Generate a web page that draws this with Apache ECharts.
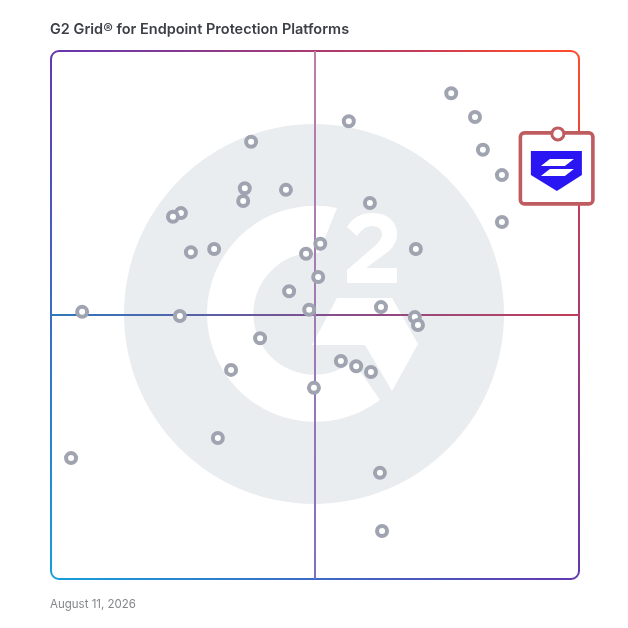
<!DOCTYPE html>
<html lang="en">
<head>
    <meta charset="UTF-8">
    <title>G2 Grid</title>
    <style>
        html, body { margin: 0; padding: 0; background: #fff; }
        #main { width: 628px; height: 628px; }
    </style>
</head>
<body>
    <div id="main"></div>
    <script src="https://cdn.jsdelivr.net/npm/echarts@6/dist/echarts.min.js"></script>
    <script>
        var chartTitle = 'G2 Grid® for Endpoint Protection Platforms';
        var chartDate = 'August 11, 2026';

        // market presence (x) and satisfaction (y)
        var vendorX = [75.8, 80.3, 81.8, 85.4, 85.4, 56.4, 37.9, 36.7, 36.4, 44.5, 60.4, 24.6, 23.1, 26.5, 30.9, 51.0, 48.3, 69.1,
            50.6, 45.1, 48.9, 62.5, 68.9, 69.5, 5.9, 24.4, 39.6, 34.1, 54.9, 57.8, 60.6, 49.8, 31.6, 3.8, 62.3, 62.7];
        var vendorY = [92.0, 87.5, 81.3, 76.5, 67.6, 86.7, 82.8, 74.0, 71.6, 73.7, 71.2, 69.3, 68.6, 61.9, 62.5, 63.5, 61.6, 62.5,
            57.2, 54.5, 51.0, 51.5, 49.6, 48.1, 50.6, 49.8, 45.6, 39.6, 41.3, 40.3, 39.2, 36.2, 26.7, 22.9, 20.1, 9.1];
        var leaderX = [96.0];
        var leaderY = [84.3];
        var quadrantSplit = [50];

        var chart = echarts.init(document.getElementById('main'));

        // shared diagonal gradient for the frame
        var frameGradient = new echarts.graphic.LinearGradient(51, 579, 579, 51, [
            { offset: 0, color: '#159fda' },
            { offset: 0.5, color: '#6338b0' },
            { offset: 0.85, color: '#c53c58' },
            { offset: 0.95, color: '#f84a30' },
            { offset: 1, color: '#ff4a2c' }
        ], true);
        var hLineGradient = new echarts.graphic.LinearGradient(51, 0, 579, 0, [
            { offset: 0, color: '#2f78bd' },
            { offset: 0.3, color: '#5a60a6' },
            { offset: 0.5, color: '#805090' },
            { offset: 1, color: '#c23c58' }
        ], true);
        var vLineGradient = new echarts.graphic.LinearGradient(0, 51, 0, 579, [
            { offset: 0, color: '#bc7fa6' },
            { offset: 0.5, color: '#a07cb4' },
            { offset: 1, color: '#7f6fc0' }
        ], true);

        var option = {
            animation: false,
            backgroundColor: '#fff',
            title: [{
                text: chartTitle,
                left: 50,
                top: 22,
                padding: 0,
                textStyle: { fontFamily: 'Inter', fontSize: 14.5, fontWeight: 600, color: '#3c3f46' }
            }, {
                text: chartDate,
                left: 50,
                top: 599,
                padding: 0,
                textStyle: { fontFamily: 'Inter', fontSize: 11.5, fontWeight: 400, color: '#85878c' }
            }],
            grid: { left: 51, top: 51, width: 528, height: 528 },
            xAxis: { type: 'value', min: 0, max: 100, show: false },
            yAxis: { type: 'value', min: 0, max: 100, show: false },
            graphic: [
                { type: 'rect', shape: { x: 51, y: 51, width: 528, height: 528, r: 8 }, style: { fill: 'none', stroke: frameGradient, lineWidth: 2 }, silent: true }
            ],
            series: [{
                // G2 watermark behind everything
                name: 'Watermark',
                type: 'custom',
                z: 1,
                silent: true,
                clip: false,
                data: [[50, 50]],
                renderItem: function () {
                    return {
                        type: 'group',
                        children: [
                            { type: 'circle', shape: { cx: 314, cy: 314, r: 190 }, style: { fill: '#eaedf0' } },
                            { type: 'path', shape: { pathData: 'M337 208 A108 108 0 1 0 380 400 L353 361 A61 61 0 1 1 319 253 Z' }, style: { fill: '#fff' } },
                            { type: 'polygon', shape: { points: [[337, 298], [392, 298], [418, 344], [392, 391], [365, 345], [312, 345]] }, style: { fill: '#fff' } },
                            { type: 'path', shape: { pathData: 'M347 227 C353 217 362 213 372 213 C388 213 397 222 397 234 C397 241 394 246 389 251 L366 268 L397 268 L397 283 L347 283 L347 270 L376 245 C381 240 382 237 382 234 C382 229 378 226 372 226 C366 226 361 230 357 236 Z' }, style: { fill: '#fff' } }
                        ]
                    };
                }
            }, {
                name: 'Quadrants',
                type: 'scatter',
                z: 2,
                data: [],
                markLine: {
                    silent: true,
                    symbol: 'none',
                    label: { show: false },
                    emphasis: { disabled: true },
                    data: [
                        { yAxis: quadrantSplit[0], lineStyle: { color: hLineGradient, width: 2, type: 'solid' } },
                        { xAxis: quadrantSplit[0], lineStyle: { color: vLineGradient, width: 2, type: 'solid' } }
                    ]
                }
            }, {
                name: 'Vendors',
                type: 'scatter',
                z: 5,
                symbol: 'circle',
                symbolSize: 10,
                itemStyle: { color: '#fff', borderColor: '#9fa4b0', borderWidth: 4, opacity: 1 },
                data: vendorX.map(function (x, i) { return [x, vendorY[i]]; })
            }, {
                name: 'Leader',
                type: 'custom',
                z: 6,
                clip: false,
                data: leaderX.map(function (x, i) { return [x, leaderY[i]]; }),
                renderItem: function (params, api) {
                    var p = api.coord([api.value(0), api.value(1)]);
                    var c = '#bf5c60';
                    return {
                        type: 'group',
                        x: p[0],
                        y: p[1],
                        children: [
                            { type: 'rect', shape: { x: -37.5, y: -1, width: 72.5, height: 71, r: 4 }, style: { fill: '#fff', stroke: c, lineWidth: 3.6 } },
                            { type: 'polygon', shape: { points: [[-27, 17], [24, 17], [24, 41], [-1, 57], [-27, 41]] }, style: { fill: '#2a16f2' } },
                            { type: 'polygon', shape: { points: [[-8, 25], [16, 25], [7, 32], [-17, 32]] }, style: { fill: '#fff' } },
                            { type: 'polygon', shape: { points: [[-8, 35], [16, 35], [7, 42], [-17, 42]] }, style: { fill: '#fff' } },
                            { type: 'circle', shape: { cx: 0, cy: 0, r: 6 }, style: { fill: '#fff', stroke: c, lineWidth: 3 } }
                        ]
                    };
                }
            }]
        };

        chart.setOption(option);
    </script>
</body>
</html>
